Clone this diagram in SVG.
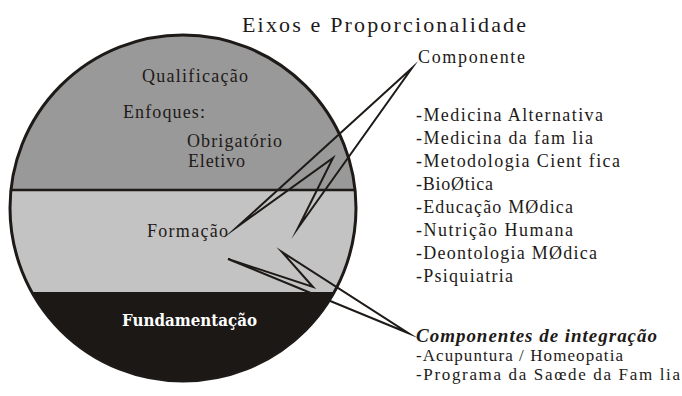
<svg xmlns="http://www.w3.org/2000/svg" width="682" height="396" viewBox="0 0 682 396">
  <style>
    .t { font-family: "Liberation Serif", "Times New Roman", serif; fill: #1e1a18; }
    .lbl { font-size: 18px; }
    .conn { fill: none; stroke: #1e1a18; stroke-width: 2; stroke-linejoin: miter; stroke-miterlimit: 20; }
  </style>
  <defs>
    <clipPath id="disc">
      <circle cx="183" cy="208" r="173"/>
    </clipPath>
  </defs>
  <rect width="682" height="396" fill="#ffffff"/>

  <g id="title">
    <text class="t" x="242" y="32" font-size="22" textLength="284">Eixos e Proporcionalidade</text>
  </g>

  <g id="circle">
    <g clip-path="url(#disc)">
      <rect x="0" y="0" width="400" height="190" fill="#999999"/>
      <rect x="0" y="190" width="400" height="102" fill="#c3c3c3"/>
      <rect x="0" y="292" width="400" height="104" fill="#1c1816"/>
    </g>
    <circle cx="183" cy="208" r="173" fill="none" stroke="#1e1a18" stroke-width="3"/>
    <line x1="10" y1="190" x2="356" y2="190" stroke="#1e1a18" stroke-width="2.5"/>
  </g>

  <g id="qualificacao">
    <text class="t lbl" x="142" y="82" textLength="106">Qualificação</text>
    <text class="t lbl" x="123" y="118" textLength="82">Enfoques:</text>
    <text class="t lbl" x="187" y="147" textLength="95">Obrigatório</text>
    <text class="t lbl" x="188" y="167" textLength="57">Eletivo</text>
  </g>

  <g id="formacao">
    <text class="t lbl" x="147" y="237" textLength="81">Formação</text>
  </g>

  <g id="fundamentacao">
    <text x="122" y="326" font-family="'DejaVu Serif', 'Liberation Serif', serif" font-weight="bold" font-size="17" fill="#ffffff" textLength="135" lengthAdjust="spacingAndGlyphs">Fundamentação</text>
  </g>

  <g id="componente">
    <text class="t lbl" x="418" y="63" textLength="107">Componente</text>
    <text class="t lbl" x="416" y="121" textLength="187">-Medicina Alternativa</text>
    <text class="t lbl" x="416" y="144" textLength="177">-Medicina da fam lia</text>
    <text class="t lbl" x="416" y="167" textLength="204">-Metodologia Cient fica</text>
    <text class="t lbl" x="416" y="190" textLength="77">-BioØtica</text>
    <text class="t lbl" x="416" y="213" textLength="157">-Educação MØdica</text>
    <text class="t lbl" x="416" y="236" textLength="157">-Nutrição Humana</text>
    <text class="t lbl" x="416" y="259" textLength="181">-Deontologia MØdica</text>
    <text class="t lbl" x="416" y="282" textLength="97">-Psiquiatria</text>
  </g>

  <g id="integracao">
    <text class="t" x="416" y="342" font-size="19" font-weight="bold" font-style="italic" textLength="241">Componentes de integração</text>
    <text class="t" x="416" y="361" font-size="17" textLength="207">-Acupuntura / Homeopatia</text>
    <text class="t" x="416" y="380" font-size="17" textLength="264">-Programa da Saœde da Fam lia</text>
  </g>

  <g id="connectors">
    <polygon class="conn" points="412,68 237,227 333,158 298,228"/>
    <polygon class="conn" points="408,333 228,259 313,287 282,252"/>
  </g>
</svg>
